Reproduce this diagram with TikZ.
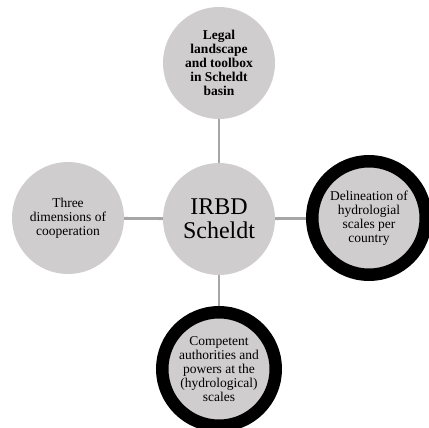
\documentclass[tikz,border=0pt]{standalone}
\usepackage{fontspec}
\setmainfont{Liberation Serif}
\usetikzlibrary{backgrounds}
\definecolor{bubble}{RGB}{207,205,206}
\definecolor{linkgrey}{RGB}{166,166,166}
\tikzset{
  bub/.style={circle, fill=bubble, minimum size=112pt, inner sep=0pt, align=center,
    font=\fontsize{13.5pt}{14pt}\selectfont},
  ringbub/.style={bub, draw=black, line width=12.5pt, minimum size=113.5pt},
  hub/.style={bub, font=\fontsize{24pt}{24.5pt}\selectfont},
  link/.style={draw=linkgrey, line width=2.8pt}
}
\begin{document}
\begin{tikzpicture}[x=1pt,y=-1pt]
\useasboundingbox (0,0) rectangle (429,428);
\clip (0,0) rectangle (429,428);
\node[hub] (c) at (219,219) {IRBD\\Scheldt};
\node[bub, font=\bfseries\fontsize{13.5pt}{14pt}\selectfont] (t) at (219,63) {Legal\\landscape\\and toolbox\\in Scheldt\\basin};
\node[bub] (l) at (68,218) {Three\\dimensions of\\cooperation};
\node[ringbub] (r) at (369,218) {Delineation of\\hydrologial\\scales per\\country};
\node[ringbub] (b) at (219,369) {Competent\\authorities and\\powers at the\\(hydrological)\\scales};
\begin{scope}[on background layer]
\draw[link] (c) -- (t);
\draw[link] (c) -- (l);
\draw[link] (c) -- (r);
\draw[link] (c) -- (b);
\end{scope}
\end{tikzpicture}
\end{document}
